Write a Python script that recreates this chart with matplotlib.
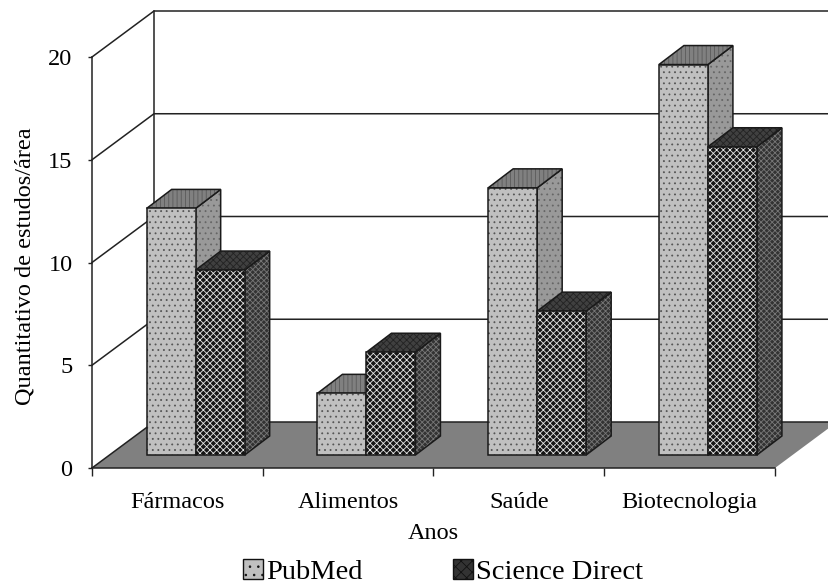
"""
3D-look bar chart: estudos por area, PubMed vs Science Direct
"""
import numpy as np
import matplotlib

matplotlib.use("Agg")
import matplotlib.pyplot as plt  # noqa:E402
from matplotlib.patches import Patch  # noqa:E402

categories = ["Fármacos", "Alimentos", "Saúde", "Biotecnologia"]
pubmed = [12, 3, 13, 19]
science_direct = [9, 5, 7, 15]
y_ticks = [0, 5, 10, 15, 20]

W, H = 829, 585
LEFT, RIGHT, BOTTOM, TOP = 92, 775, 468, 57
PX_X = 4 / (RIGHT - LEFT)  # data units per pixel
PX_Y = 20 / (BOTTOM - TOP)

WALL_DX, WALL_DY = 62 * PX_X, 46 * PX_Y
BAR_DX, BAR_DY = 25 * PX_X, 19 * PX_Y
SHIFT_X, SHIFT_Y = 18.3 * PX_X, 13 * PX_Y
BAR_W = 49 * PX_X

plt.rcParams["font.family"] = ["Liberation Serif", "DejaVu Serif"]
plt.rcParams["hatch.linewidth"] = 0.6


def draw_bar3d(ax, x0, value, styles):
    """
    Front, side and top faces of a single bar
    """
    x1 = x0 + BAR_W
    y0 = SHIFT_Y
    y1 = y0 + value
    side = [(x1, y0), (x1 + BAR_DX, y0 + BAR_DY), (x1 + BAR_DX, y1 + BAR_DY), (x1, y1)]
    top = [(x0, y1), (x1, y1), (x1 + BAR_DX, y1 + BAR_DY), (x0 + BAR_DX, y1 + BAR_DY)]

    for verts, (face, hatch_color, hatch) in zip((side, top), styles[1:]):
        xs, ys = zip(*verts)
        ax.fill(xs, ys, facecolor=face, edgecolor=hatch_color, hatch=hatch,
                linewidth=0, zorder=3, clip_on=False)
        ax.fill(xs, ys, fill=False, edgecolor="#1a1a1a", linewidth=1.1,
                zorder=3, clip_on=False)

    face, hatch_color, hatch = styles[0]
    ax.bar(x0, value, BAR_W, bottom=y0, align="edge", color=face,
           edgecolor=hatch_color, hatch=hatch, linewidth=0, zorder=3, clip_on=False)
    ax.bar(x0, value, BAR_W, bottom=y0, align="edge", fill=False,
           edgecolor="#1a1a1a", linewidth=1.1, zorder=3, clip_on=False)


def main():
    fig = plt.figure(figsize=(W / 100, H / 100), dpi=100)
    ax = fig.add_axes([LEFT / W, 1 - BOTTOM / H, (RIGHT - LEFT) / W, (BOTTOM - TOP) / H])
    ax.set_xlim(0, 4)
    ax.set_ylim(0, 20)

    # floor
    ax.fill([0, 4, 4 + WALL_DX, WALL_DX], [0, 0, WALL_DY, WALL_DY],
            color="#808080", linewidth=0, zorder=1, clip_on=False)

    # grid on back and left walls
    for y in y_ticks:
        ax.plot([0, WALL_DX, 4 + WALL_DX], [y, y + WALL_DY, y + WALL_DY],
                color="#222222", linewidth=1.1, zorder=2, clip_on=False)
    ax.plot([WALL_DX, WALL_DX], [WALL_DY, 20 + WALL_DY], color="#222222",
            linewidth=1.1, zorder=2, clip_on=False)

    pubmed_style = [("#c0c0c0", "#555555", "..."),
                    ("#999999", "#666666", "..."),
                    ("#808080", "#5a5a5a", "||||")]
    science_style = [("#151515", "#e4e4e4", "xxxxx"),
                     ("#333333", "#777777", "xxxxxx"),
                     ("#404040", "#222222", "xxxxx")]

    for i in range(len(categories)):
        x0 = i + 0.5 + SHIFT_X - BAR_W
        draw_bar3d(ax, x0, pubmed[i], pubmed_style)
        draw_bar3d(ax, x0 + BAR_W, science_direct[i], science_style)

    ax.spines["top"].set_visible(False)
    ax.spines["right"].set_visible(False)
    for side in ("left", "bottom"):
        ax.spines[side].set_linewidth(1.1)
        ax.spines[side].set_color("#222222")
        ax.spines[side].set_zorder(4)

    ax.set_xticks(np.arange(5))
    ax.set_xticklabels([])
    ax.set_xticks(np.arange(4) + 0.5, categories, minor=True)
    ax.tick_params(axis="x", which="major", length=6, width=1, color="#222222")
    ax.tick_params(axis="x", which="minor", length=0, labelsize=17.5, pad=17.5)
    ax.set_yticks(y_ticks)
    ax.tick_params(axis="y", length=3, width=1, color="#222222", labelsize=17.5, pad=11)
    ax.set_xlabel("Anos", fontsize=17.5, labelpad=7)
    ax.set_ylabel("Quantitativo de estudos/área", fontsize=17.5, labelpad=9, y=0.49)

    handles = [
        Patch(facecolor="#c0c0c0", edgecolor="#111111", hatch="..", label="PubMed"),
        Patch(facecolor="#333333", edgecolor="#111111", hatch="xxx", label="Science Direct"),
    ]
    ax.legend(handles=handles, ncol=2, frameon=False, fontsize=20.5,
              loc="upper left", bbox_to_anchor=(151 / (RIGHT - LEFT), -0.222),
              handlelength=0.7, handleheight=0.7, handletextpad=0.1,
              columnspacing=3.2, borderaxespad=0, borderpad=0)

    fig.savefig("out.png", dpi=100)
    plt.close(fig)


if __name__ == "__main__":
    main()
